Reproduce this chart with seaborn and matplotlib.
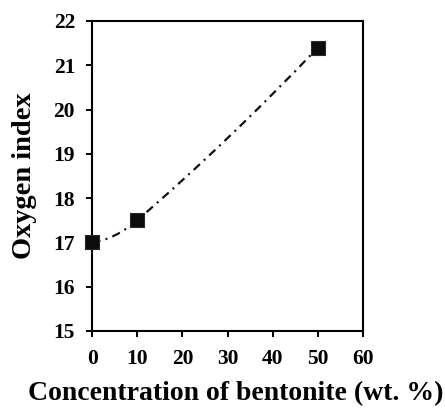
import numpy as np
import pandas as pd
import matplotlib
matplotlib.use("Agg")
import matplotlib.pyplot as plt
from matplotlib.path import Path
from matplotlib.patches import PathPatch
import seaborn as sns

# Oxygen index versus bentonite loading
bentonite_wt = [0, 10, 50]
oxygen_index = [17.0, 17.5, 21.4]
x_ticks = [0, 10, 20, 30, 40, 50, 60]
y_ticks = [15, 16, 17, 18, 19, 20, 21, 22]

sns.set_theme(style="ticks")
plt.rcParams["font.family"] = ["Liberation Serif", "DejaVu Serif"]
plt.rcParams["font.weight"] = "bold"

df = pd.DataFrame({"conc": bentonite_wt, "oi": oxygen_index})

fig = plt.figure(figsize=(4.45, 4.11), dpi=100)
ax = fig.add_axes([0.207, 0.195, 0.609, 0.754])

# Smooth connecting curve: cubic Hermite segments as Bezier pieces
xs = np.asarray(bentonite_wt, float)
ys = np.asarray(oxygen_index, float)
seg_slopes = np.diff(ys) / np.diff(xs)
tangents = np.empty_like(ys)
tangents[1:-1] = (ys[2:] - ys[:-2]) / (xs[2:] - xs[:-2])
tangents[0] = 2 * seg_slopes[0] - tangents[1]
tangents[-1] = 2 * seg_slopes[-1] - tangents[-2]
verts = [(xs[0], ys[0])]
codes = [Path.MOVETO]
for i in range(len(xs) - 1):
    h = (xs[i + 1] - xs[i]) / 3.0
    verts += [(xs[i] + h, ys[i] + tangents[i] * h),
              (xs[i + 1] - h, ys[i + 1] - tangents[i + 1] * h),
              (xs[i + 1], ys[i + 1])]
    codes += [Path.CURVE4] * 3
curve = PathPatch(Path(verts, codes), facecolor="none", edgecolor="#111111",
                  linewidth=1.6, linestyle=(0, (3.8, 2.4, 0.9, 2.4)),
                  capstyle="butt", zorder=2)
ax.add_patch(curve)

sns.scatterplot(data=df, x="conc", y="oi", ax=ax, marker="s", s=110,
                color="#0c0c0c", edgecolor="#2a2a2a", linewidth=0.8,
                zorder=3, clip_on=False, legend=False)

ax.set_xlim(0, 60)
ax.set_ylim(15, 22)
ax.set_xticks(x_ticks)
ax.set_yticks(y_ticks)
ax.set_xticklabels([str(t) for t in x_ticks])
ax.set_yticklabels([str(t) for t in y_ticks])

for side in ["left", "right", "top", "bottom"]:
    ax.spines[side].set_visible(True)
    ax.spines[side].set_linewidth(1.5)
    ax.spines[side].set_color("black")

ax.tick_params(axis="both", which="major", direction="out", length=4.3,
               width=1.4, color="black", labelsize=15.5, labelcolor="black")
ax.tick_params(axis="y", pad=8)
ax.tick_params(axis="x", pad=9)
ax.tick_params(top=False, right=False)
for lbl in ax.get_xticklabels() + ax.get_yticklabels():
    lbl.set_fontweight("bold")

ax.set_xlabel("Concentration of bentonite (wt. %)", fontsize=20,
              fontweight="bold", color="black")
ax.xaxis.set_label_coords(0.53, -0.163)
ax.set_ylabel("Oxygen index", fontsize=20.5, fontweight="bold",
              color="black", labelpad=12)
ax.grid(False)
ax.set_facecolor("white")
fig.patch.set_facecolor("white")

fig.savefig("out.png", dpi=100)
